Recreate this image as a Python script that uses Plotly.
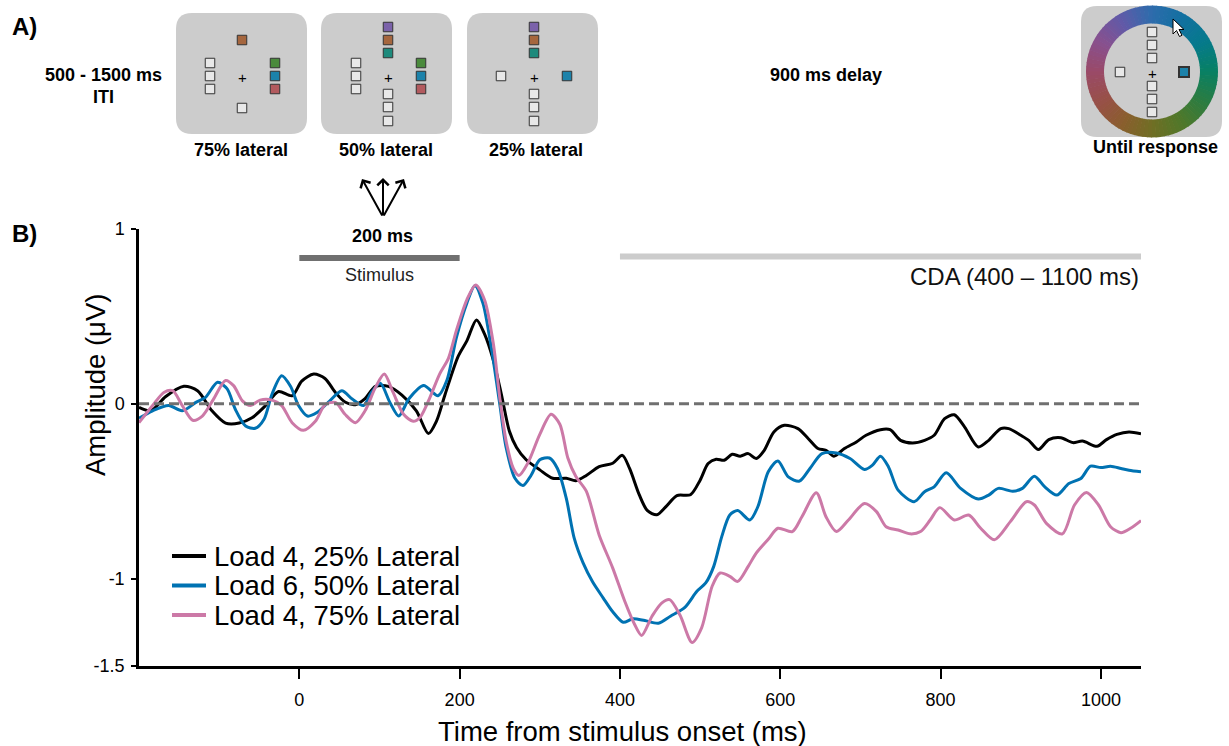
import math
import plotly.graph_objects as go

# ---------------- data ----------------
series_names = ["Load 4, 25% Lateral", "Load 6, 50% Lateral", "Load 4, 75% Lateral"]
series_colors = ["#000000", "#0072B2", "#CC79A7"]

black_t = [-200, -185, -167, -144, -127, -109, -92, -75, -59, -42, -26, -9, 3, 18, 32, 45, 57, 70, 82, 95,
           111, 128, 146, 161, 171, 182, 198, 209, 221, 231, 242, 252, 262, 271, 283, 300, 316, 333, 345, 358,
           374, 391, 403, 412, 424, 434, 446, 458, 471, 488, 500, 510, 520, 530, 540, 550, 560, 570, 580, 592,
           605, 622, 635, 647, 657, 667, 680, 695, 707, 725, 737, 750, 765, 780, 792, 805, 817, 830, 847, 860,
           875, 885, 900, 910, 922, 935, 950, 965, 977, 995, 1007, 1020, 1035, 1050]
black_v = [-0.02, -0.04, 0.04, 0.10, 0.075, -0.04, -0.11, -0.11, -0.08, -0.01, 0.07, 0.046, 0.13, 0.17, 0.145,
           0.065, 0.01, -0.005, 0.03, 0.10, 0.10, 0.05, -0.04, -0.17, -0.10, 0.056, 0.27, 0.36, 0.48, 0.40, 0.25,
           0.056, -0.156, -0.25, -0.32, -0.378, -0.426, -0.426, -0.44, -0.41, -0.36, -0.34, -0.295, -0.37, -0.52,
           -0.61, -0.635, -0.585, -0.525, -0.52, -0.437, -0.342, -0.317, -0.323, -0.289, -0.30, -0.285, -0.313,
           -0.266, -0.161, -0.123, -0.142, -0.20, -0.256, -0.266, -0.30, -0.256, -0.218, -0.18, -0.148, -0.148,
           -0.209, -0.224, -0.209, -0.18, -0.085, -0.063, -0.133, -0.247, -0.209, -0.142, -0.142, -0.18, -0.209,
           -0.262, -0.205, -0.194, -0.222, -0.213, -0.243, -0.205, -0.175, -0.161, -0.171]

blue_t = [-200, -183, -163, -146, -129, -117, -102, -90, -80, -67, -55, -44, -34, -22, -11, -1, 10, 22, 36, 53,
          66, 80, 90, 101, 113, 124, 137, 155, 173, 184, 196, 209, 219, 229, 240, 250, 258, 269, 279, 289, 300,
          312, 322, 333, 343, 354, 366, 379, 391, 404, 416, 431, 448, 463, 481, 496, 507, 517, 527, 537, 547,
          562, 572, 585, 597, 610, 624, 637, 652, 670, 687, 705, 715, 725, 735, 747, 767, 780, 792, 807, 825,
          847, 860, 872, 890, 902, 917, 930, 945, 960, 975, 987, 1000, 1012, 1025, 1035, 1050]
blue_v = [-0.083, -0.04, -0.01, -0.04, 0.008, 0.037, 0.123, 0.085, -0.03, -0.127, -0.14, -0.088, 0.056, 0.16,
          0.10, -0.01, -0.07, -0.05, 0.008, 0.075, 0.027, -0.01, 0.065, 0.117, 0.008, -0.07, 0.03, 0.104, 0.046,
          0.133, 0.38, 0.576, 0.676, 0.576, 0.306, 0.0, -0.25, -0.426, -0.468, -0.41, -0.32, -0.31, -0.37, -0.54,
          -0.77, -0.91, -1.02, -1.11, -1.19, -1.25, -1.23, -1.24, -1.255, -1.215, -1.165, -1.073, -1.025, -0.93,
          -0.76, -0.636, -0.611, -0.665, -0.589, -0.389, -0.327, -0.418, -0.442, -0.37, -0.285, -0.281, -0.313,
          -0.376, -0.351, -0.30, -0.361, -0.494, -0.56, -0.503, -0.475, -0.395, -0.484, -0.545, -0.522, -0.484,
          -0.50, -0.484, -0.414, -0.475, -0.522, -0.456, -0.427, -0.357, -0.365, -0.357, -0.37, -0.38, -0.389]

pink_t = [-200, -183, -169, -158, -146, -133, -121, -107, -92, -82, -71, -61, -49, -34, -22, -9, 5, 20, 32, 45,
          57, 70, 82, 95, 106, 117, 130, 142, 151, 163, 175, 186, 196, 209, 220, 231, 242, 250, 258, 267, 274,
          285, 300, 314, 325, 335, 345, 358, 374, 391, 406, 418, 427, 440, 452, 462, 475, 490, 502, 515, 525,
          537, 547, 560, 570, 585, 597, 615, 627, 645, 657, 670, 685, 705, 720, 732, 747, 762, 775, 787, 799,
          817, 835, 850, 867, 887, 907, 917, 932, 952, 967, 982, 997, 1012, 1025, 1037, 1050]
pink_v = [-0.108, -0.01, 0.065, 0.075, -0.01, -0.094, -0.07, 0.027, 0.133, 0.104, 0.017, -0.01, 0.021, 0.021,
          -0.01, -0.108, -0.152, -0.10, -0.006, 0.008, -0.06, -0.108, -0.04, 0.094, 0.17, 0.065, -0.06, -0.10,
          -0.075, 0.037, 0.17, 0.26, 0.42, 0.595, 0.68, 0.595, 0.345, 0.037, -0.214, -0.37, -0.41, -0.34, -0.175,
          -0.06, -0.117, -0.31, -0.416, -0.50, -0.75, -0.94, -1.13, -1.26, -1.325, -1.215, -1.14, -1.12, -1.21,
          -1.365, -1.28, -1.044, -0.968, -0.987, -1.016, -0.93, -0.854, -0.775, -0.712, -0.731, -0.646, -0.509,
          -0.646, -0.731, -0.665, -0.57, -0.617, -0.703, -0.722, -0.744, -0.731, -0.665, -0.594, -0.665, -0.636,
          -0.712, -0.778, -0.674, -0.56, -0.579, -0.684, -0.744, -0.579, -0.507, -0.579, -0.703, -0.737, -0.712,
          -0.668]

x_ticks = [0, 200, 400, 600, 800, 1000]
y_ticks = [-1.5, -1, 0, 1]
y_ticktext = ["-1.5", "-1", "0", "1"]
x_range = [-200, 1050]
y_range = [-1.5, 1]
x_title = "Time from stimulus onset (ms)"
y_title = "Amplitude (μV)"

stim_window = [0, 200]
cda_window = [400, 1050]

# ---------------- geometry helpers ----------------
W, H = 1229, 746
L, R, T, B = 139, 88, 229, 80
PW = W - L - R
PH = H - T - B
FONT = "Arial, Liberation Sans, Helvetica, sans-serif"


def px(x):
    return (x - L) / PW


def py(y):
    return (H - B - y) / PH


shapes = []
annotations = []


def txt(x, y, s, size, bold=False, xanchor="center", color="black", angle=0):
    annotations.append(dict(xref="paper", yref="paper", x=px(x), y=py(y),
                            text=("<b>%s</b>" % s) if bold else s, showarrow=False,
                            xanchor=xanchor, yanchor="middle", textangle=angle,
                            font=dict(size=size, color=color, family=FONT)))


def rrect(x0, y0, x1, y1, r, fill):
    p = lambda a, b: "%.5f,%.5f" % (px(a), py(b))
    path = ("M %s L %s Q %s %s L %s Q %s %s L %s Q %s %s L %s Q %s %s Z" % (
        p(x0 + r, y0), p(x1 - r, y0), p(x1, y0), p(x1, y0 + r), p(x1, y1 - r), p(x1, y1), p(x1 - r, y1),
        p(x0 + r, y1), p(x0, y1), p(x0, y1 - r), p(x0, y0 + r), p(x0, y0), p(x0 + r, y0)))
    shapes.append(dict(type="path", xref="paper", yref="paper", path=path, fillcolor=fill,
                       line=dict(width=0), layer="below"))


def sq(cx, cy, fill, s=9.5, lw=1.0):
    shapes.append(dict(type="rect", xref="paper", yref="paper",
                       x0=px(cx - s / 2), x1=px(cx + s / 2), y0=py(cy + s / 2), y1=py(cy - s / 2),
                       fillcolor=fill, line=dict(color="#333333", width=lw), layer="above"))


WHITE = "#e8e8e8"
BROWN = "#a5663e"
PURPLE = "#7b62aa"
TEAL = "#1d8a7c"
GREEN = "#4a8a3c"
BLUE = "#1c82aa"
RED = "#b25a5e"
BOXGRAY = "#cccccc"

# ---------------- panel A ----------------
txt(10, 27, "A)", 24, bold=True, xanchor="left")
txt(10, 234, "B)", 24, bold=True, xanchor="left")
txt(103, 75, "500 - 1500 ms", 18, bold=True)
txt(103, 97, "ITI", 18, bold=True)

# box 1 (75% lateral)
rrect(176, 13, 307, 134, 16, BOXGRAY)
c1 = 242
sq(c1, 40, BROWN)
sq(c1, 108, WHITE)
for yy in (63, 76, 89):
    sq(c1 - 32, yy, WHITE)
for yy, col in zip((63, 76, 89), (GREEN, BLUE, RED)):
    sq(c1 + 33, yy, col)
txt(c1, 77, "+", 15)
txt(241, 150, "75% lateral", 18, bold=True)

# box 2 (50% lateral)
rrect(321, 13, 452, 134, 16, BOXGRAY)
c2 = 388
for yy, col in zip((27, 40, 53), (PURPLE, BROWN, TEAL)):
    sq(c2, yy, col)
for yy in (94, 107, 121):
    sq(c2, yy, WHITE)
for yy in (63, 76, 89):
    sq(c2 - 32, yy, WHITE)
for yy, col in zip((63, 76, 89), (GREEN, BLUE, RED)):
    sq(c2 + 33, yy, col)
txt(c2, 77, "+", 15)
txt(386, 150, "50% lateral", 18, bold=True)

# box 3 (25% lateral)
rrect(467, 13, 598, 134, 16, BOXGRAY)
c3 = 534
for yy, col in zip((27, 40, 53), (PURPLE, BROWN, TEAL)):
    sq(c3, yy, col)
for yy in (94, 107, 121):
    sq(c3, yy, WHITE)
sq(c3 - 33, 76, WHITE)
sq(c3 + 33, 76, BLUE)
txt(c3, 77, "+", 15)
txt(536, 150, "25% lateral", 18, bold=True)

txt(826, 75, "900 ms delay", 18, bold=True)

# response display with colour wheel
rrect(1081, 6, 1222, 137, 16, BOXGRAY)
cx, cy, r_out, r_in = 1152, 71.5, 66, 48
wheel_keys = [(0, (45, 108, 172)), (30, (18, 112, 160)), (60, (5, 122, 140)), (90, (8, 128, 100)),
              (120, (42, 124, 66)), (150, (80, 120, 42)), (180, (112, 110, 36)), (210, (138, 94, 46)),
              (240, (152, 80, 72)), (270, (154, 74, 104)), (300, (136, 80, 142)), (330, (96, 90, 168)),
              (360, (45, 108, 172))]


def wheel_col(a):
    for (a0, c0), (a1, c1_) in zip(wheel_keys[:-1], wheel_keys[1:]):
        if a0 <= a <= a1:
            f = (a - a0) / (a1 - a0)
            return "rgb(%d,%d,%d)" % tuple(round(c0[i] + f * (c1_[i] - c0[i])) for i in range(3))
    return "rgb(45,108,172)"


NSEG = 96
for k in range(NSEG):
    a0 = 360.0 * k / NSEG
    a1 = 360.0 * (k + 1) / NSEG + 0.6
    am = (a0 + a1) / 2
    pts = []
    for a, r in ((a0, r_in), (a0, r_out), (a1, r_out), (a1, r_in)):
        rad = math.radians(a)
        pts.append((cx + r * math.sin(rad), cy - r * math.cos(rad)))
    path = "M " + " L ".join("%.5f,%.5f" % (px(x), py(y)) for x, y in pts) + " Z"
    shapes.append(dict(type="path", xref="paper", yref="paper", path=path,
                       fillcolor=wheel_col(am), line=dict(width=0), layer="below"))

for yy in (32, 45, 58):
    sq(cx, yy, WHITE)
for yy in (86, 99, 112):
    sq(cx, yy, WHITE)
sq(cx - 32, 72, WHITE)
sq(cx + 32, 72, BLUE, s=10, lw=2)
txt(cx, 73, "+", 15)
cursor = [(1173, 19), (1173, 34), (1176.5, 30.5), (1179.5, 36.5), (1182, 35.3), (1179, 29.5), (1184, 29.5)]
shapes.append(dict(type="path", xref="paper", yref="paper",
                   path="M " + " L ".join("%.5f,%.5f" % (px(x), py(y)) for x, y in cursor) + " Z",
                   fillcolor="white", line=dict(color="black", width=1), layer="above"))
txt(1155, 147, "Until response", 18, bold=True)

# arrows (200 ms presentation)
tail = (383, 217)
for tip in ((362, 179), (383, 178), (404, 179)):
    annotations.append(dict(xref="paper", yref="paper", x=px(tip[0]), y=py(tip[1]), text="",
                            showarrow=True, ax=tail[0] - tip[0], ay=tail[1] - tip[1],
                            arrowhead=4, arrowsize=1.1, arrowwidth=2, arrowcolor="black", standoff=0))
txt(382, 236, "200 ms", 18, bold=True)

# ---------------- panel B ----------------
fig = go.Figure()
for name, col, tt, vv in zip(series_names, series_colors, (black_t, blue_t, pink_t), (black_v, blue_v, pink_v)):
    fig.add_trace(go.Scatter(x=tt, y=vv, mode="lines", name=name,
                             line=dict(color=col, width=3, shape="spline", smoothing=0.8)))

# zero line
shapes.append(dict(type="line", xref="x", yref="y", x0=x_range[0], x1=x_range[1], y0=0, y1=0,
                   line=dict(color="#707070", width=3, dash="10px,5px"), layer="above"))
# stimulus and CDA windows
shapes.append(dict(type="line", xref="x", yref="y", x0=stim_window[0], x1=stim_window[1], y0=0.834, y1=0.834,
                   line=dict(color="#707070", width=6)))
shapes.append(dict(type="line", xref="x", yref="y", x0=cda_window[0], x1=cda_window[1], y0=0.842, y1=0.842,
                   line=dict(color="#cccccc", width=6)))
annotations.append(dict(xref="x", yref="y", x=(stim_window[0] + stim_window[1]) / 2, y=0.737, text="Stimulus",
                        showarrow=False, xanchor="center", yanchor="middle",
                        font=dict(size=18, color="#222222", family=FONT)))
annotations.append(dict(xref="x", yref="y", x=cda_window[1], y=0.728, text="CDA (400 – 1100 ms)",
                        showarrow=False, xanchor="right", yanchor="middle",
                        font=dict(size=24, color="#111111", family=FONT)))

# axis titles (placed as in the reference)
txt(622, 731, x_title, 27.5)
txt(95, 385, y_title, 27.5, angle=-90)

# legend drawn as text rows with line samples
for i, (name, col) in enumerate(zip(series_names, series_colors)):
    yy = 556 + i * 29.5
    shapes.append(dict(type="line", xref="paper", yref="paper", x0=px(172), x1=px(206), y0=py(yy), y1=py(yy),
                       line=dict(color=col, width=4)))
    txt(212, yy, name, 27.5, xanchor="left")

fig.update_layout(
    width=W, height=H,
    margin=dict(l=L, r=R, t=T, b=B, autoexpand=False),
    plot_bgcolor="white", paper_bgcolor="white",
    showlegend=False,
    font=dict(family=FONT, color="black"),
    shapes=shapes, annotations=annotations,
    xaxis=dict(range=x_range, showline=True, linecolor="black", linewidth=2.5, ticks="outside", ticklen=10,
               tickwidth=1.5, tickcolor="black", tickvals=x_ticks, tickfont=dict(size=18, family=FONT),
               ticklabelstandoff=6,
               showgrid=False, zeroline=False, automargin=False),
    yaxis=dict(range=y_range, showline=True, linecolor="black", linewidth=2.5, ticks="outside", ticklen=5,
               tickwidth=1.5, tickcolor="black", tickvals=y_ticks, ticktext=y_ticktext,
               tickfont=dict(size=18, family=FONT), ticklabelstandoff=3,
               showgrid=False, zeroline=False, automargin=False),
)

fig.write_html("out.html")
